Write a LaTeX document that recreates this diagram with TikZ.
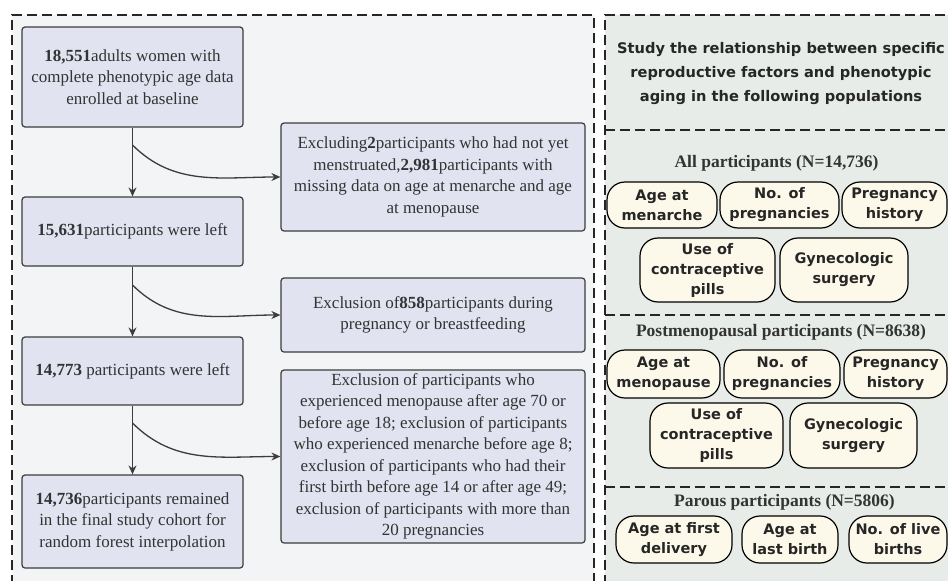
\documentclass[tikz,border=0pt]{standalone}
\usepackage{fontspec}
\setmainfont{Liberation Serif}
\newfontfamily\pillfont{DejaVu Sans}
\usetikzlibrary{arrows.meta}
\definecolor{boxfill}{RGB}{225,227,240}
\definecolor{boxline}{RGB}{60,60,60}
\definecolor{leftbg}{RGB}{243,244,246}
\definecolor{rightbg}{RGB}{231,236,232}
\definecolor{pillfill}{RGB}{253,249,234}
\tikzstyle{stepbox}=[rectangle,rounded corners=3pt,draw=boxline,fill=boxfill,line width=1.2pt,align=center,inner sep=0pt,text=black!80,font=\fontsize{17}{21.5}\selectfont]
\tikzstyle{pill}=[rectangle,rounded corners=18pt,draw=black,fill=pillfill,line width=1.2pt,align=center,inner sep=0pt,text=black!85,font=\pillfont\bfseries\fontsize{14.5}{20}\selectfont]
\tikzstyle{grouptitle}=[align=center,text=black!80,font=\bfseries\fontsize{17.5}{20}\selectfont]
\tikzstyle{arr}=[-{Stealth[length=9pt,width=8pt]},draw=boxline,line width=1.3pt]
\tikzstyle{frame}=[draw=black!85,line width=1.6pt,dash pattern=on 10pt off 5pt]

\begin{document}
\begin{tikzpicture}[x=1pt,y=-1pt]
  \useasboundingbox (0,0) rectangle (948,581);
  \clip (0,0) rectangle (948,581);
  \fill[white] (0,0) rectangle (948,581);
  % panels
  \fill[leftbg] (12,15) rectangle (594,600);
  \fill[rightbg] (605,15) rectangle (970,600);
  \draw[frame] (12,600) -- (12,15) -- (594,15) -- (594,600);
  \draw[frame] (605,600) -- (605,15) -- (970,15);
  \draw[frame] (605,130) -- (970,130);
  \draw[frame] (605,315) -- (970,315);
  \draw[frame] (605,487) -- (970,487);

  % flow chart
  \node[stepbox,minimum width=221pt,minimum height=100pt] (n1) at (132.5,77)
    {\textbf{18,551}adults women with\\complete phenotypic age data\\enrolled at baseline};
  \node[stepbox,minimum width=221pt,minimum height=69pt] (n2) at (132.5,231.5)
    {\textbf{15,631}participants were left};
  \node[stepbox,minimum width=221pt,minimum height=68pt] (n3) at (132.5,371)
    {\textbf{14,773} participants were left};
  \node[stepbox,minimum width=221pt,minimum height=93pt] (n4) at (132.5,521.5)
    {\textbf{14,736}participants remained\\in the final study cohort for\\random forest interpolation};
  \node[stepbox,minimum width=304pt,minimum height=108pt] (e1) at (433,177)
    {Excluding\textbf{2}participants who had not yet\\menstruated,\textbf{2,981}participants with\\missing data on age at menarche and age\\at menopause};
  \node[stepbox,minimum width=304pt,minimum height=74pt] (e2) at (433,315)
    {Exclusion of\textbf{858}participants during\\pregnancy or breastfeeding};
  \node[stepbox,minimum width=304pt,minimum height=173pt] (e3) at (433,456.5)
    {Exclusion of participants who\\experienced menopause after age 70 or\\before age 18; exclusion of participants\\who experienced menarche before age 8;\\exclusion of participants who had their\\first birth before age 14 or after age 49;\\exclusion of participants with more than\\20 pregnancies};

  \coordinate (b1) at (132.5,145);
  \coordinate (b2) at (132.5,285);
  \coordinate (b3) at (132.5,423);
  \draw[arr] (n1) -- (n2);
  \draw[arr] (n2) -- (n3);
  \draw[arr] (n3) -- (n4);
  \draw[arr] (b1) to[out=-45,in=180] (e1.west);
  \draw[arr] (b2) to[out=-45,in=180] (e2.west);
  \draw[arr] (b3) to[out=-45,in=180] (e3.west);

  % populations
  \node[align=center,text=black!85,font=\pillfont\bfseries\fontsize{14.6}{24}\selectfont] (title) at (781,74)
    {Study the relationship between specific\\reproductive factors and phenotypic\\aging in the following populations};

  \node[grouptitle] (g1) at (776.5,163) {All participants (N=14,736)};
  \node[pill,minimum width=110pt,minimum height=46pt] (p11) at (662,205) {Age at\\menarche};
  \node[pill,minimum width=119pt,minimum height=46pt] (p12) at (779.5,205) {No. of\\pregnancies};
  \node[pill,minimum width=105pt,minimum height=46pt] (p13) at (894.5,205) {Pregnancy\\history};
  \node[pill,minimum width=135pt,minimum height=64pt] (p14) at (707.5,270) {Use of\\contraceptive\\pills};
  \node[pill,minimum width=128pt,minimum height=64pt] (p15) at (844,270) {Gynecologic\\surgery};

  \node[grouptitle] (g2) at (781,332) {Postmenopausal participants (N=8638)};
  \node[pill,minimum width=113pt,minimum height=48pt] (p21) at (663.5,374) {Age at\\menopause};
  \node[pill,minimum width=116pt,minimum height=48pt] (p22) at (782,374) {No. of\\pregnancies};
  \node[pill,minimum width=103pt,minimum height=48pt] (p23) at (895.5,374) {Pregnancy\\history};
  \node[pill,minimum width=133pt,minimum height=65pt] (p24) at (716.5,435.5) {Use of\\contraceptive\\pills};
  \node[pill,minimum width=127pt,minimum height=65pt] (p25) at (853.5,435.5) {Gynecologic\\surgery};

  \node[grouptitle] (g3) at (784.5,502) {Parous participants (N=5806)};
  \node[pill,minimum width=116pt,minimum height=47pt] (p31) at (674,539.5) {Age at first\\delivery};
  \node[pill,minimum width=96pt,minimum height=47pt] (p32) at (790,539.5) {Age at\\last birth};
  \node[pill,minimum width=98pt,minimum height=47pt] (p33) at (898,539.5) {No. of live\\births};
\end{tikzpicture}
\end{document}
